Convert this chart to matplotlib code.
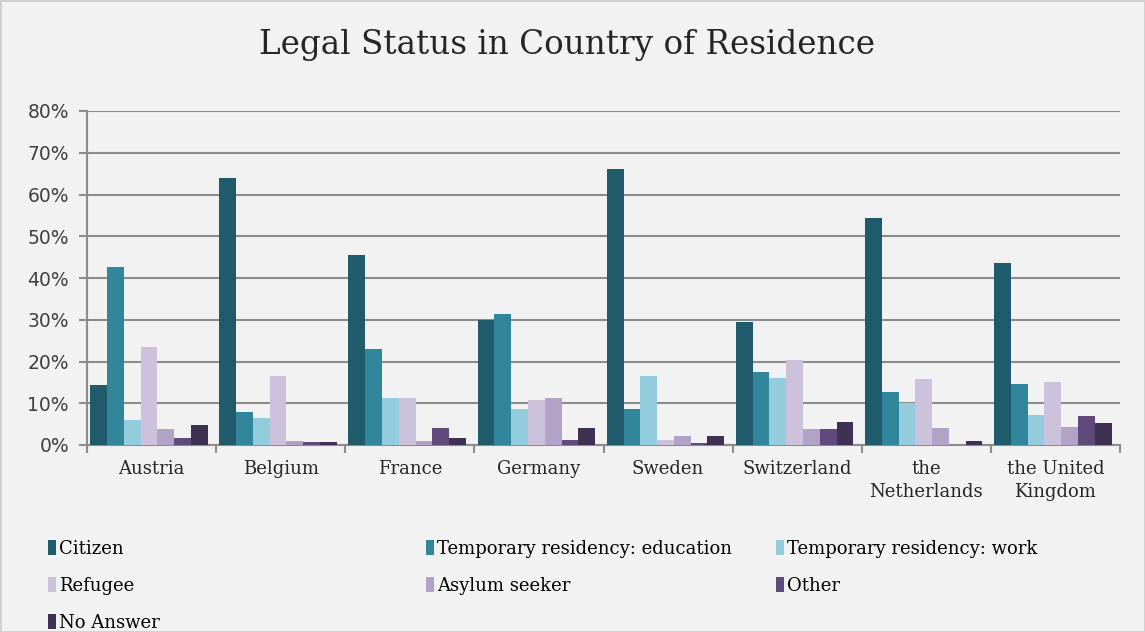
import numpy as np
import matplotlib.pyplot as plt
from matplotlib.patches import Rectangle, Patch
from matplotlib.ticker import FuncFormatter, MultipleLocator

# values, in percent
countries = ['Austria', 'Belgium', 'France', 'Germany', 'Sweden',
             'Switzerland', 'the\nNetherlands', 'the United\nKingdom']
series = ['Citizen', 'Temporary residency: education', 'Temporary residency: work',
          'Refugee', 'Asylum seeker', 'Other', 'No Answer']
citizen = [14.3, 64.0, 45.6, 30.0, 66.2, 29.5, 54.3, 43.5]
temp_edu = [42.6, 7.8, 23.0, 31.3, 8.7, 17.4, 12.7, 14.7]
temp_work = [6.0, 6.5, 11.3, 8.7, 16.5, 16.1, 10.0, 7.3]
refugee = [23.4, 16.5, 11.3, 10.8, 1.3, 20.4, 15.7, 15.2]
asylum = [3.9, 0.9, 0.9, 11.3, 2.1, 3.9, 4.0, 4.4]
other = [1.7, 0.8, 4.0, 1.3, 0.4, 3.9, 0.0, 7.0]
no_answer = [4.8, 0.8, 1.7, 4.0, 2.1, 5.6, 0.9, 5.2]
colors = ['#1f5b6b', '#31869c', '#93cddd', '#cdc2db', '#b3a2c8', '#604a7b', '#3f3152']

values = [citizen, temp_edu, temp_work, refugee, asylum, other, no_answer]

bg = '#f2f2f2'
fig = plt.figure(figsize=(11.45, 6.32), dpi=100, facecolor=bg)
ax = fig.add_axes([87 / 1145, 1 - 445 / 632, 1033 / 1145, 334 / 632])
ax.set_facecolor(bg)

x = np.arange(len(countries))
bw = 0.13
handles = []
for i, (name, vals, c) in enumerate(zip(series, values, colors)):
    off = (i - 3) * bw - 0.02
    ax.bar(x + off, vals, width=bw, color=c, zorder=3)
    handles.append(Patch(facecolor=c, label=name))

ax.set_xlim(-0.5, len(countries) - 0.5)
ax.set_ylim(0, 80)
ax.yaxis.set_major_locator(MultipleLocator(10))
ax.yaxis.set_major_formatter(FuncFormatter(lambda v, p: '%d%%' % v))
ax.grid(axis='y', color='#8c8c8c', linewidth=1.5, zorder=0)

for s in ['top', 'right']:
    ax.spines[s].set_visible(False)
for s in ['left', 'bottom']:
    ax.spines[s].set_color('#8c8c8c')
    ax.spines[s].set_linewidth(1.5)

ax.set_xticks(x)
ax.set_xticklabels(countries, fontfamily='DejaVu Serif', fontsize=13, color='#262626',
                   linespacing=1.35)
ax.set_xticks(np.arange(len(countries) + 1) - 0.5, minor=True)
ax.tick_params(axis='x', which='major', length=0, pad=11)
ax.tick_params(axis='x', which='minor', length=6, color='#8c8c8c', width=1.5)
ax.tick_params(axis='y', length=6, color='#8c8c8c', width=1.5, labelsize=13.5,
               labelcolor='#404040', pad=7)

fig.text(0.495, 1 - 45 / 632, 'Legal Status in Country of Residence', ha='center', va='center',
         fontfamily='DejaVu Serif', fontsize=23.5, color='#262626')

# legend, three columns placed as in the reference
cols = [(48, [0, 3, 6]), (426, [1, 4]), (776, [2, 5])]
for xpix, idx in cols:
    fig.legend([handles[k] for k in idx], [series[k] for k in idx],
               loc='upper left', bbox_to_anchor=(xpix / 1145, 1 - 540 / 632),
               frameon=False, handlelength=0.45, handleheight=0.9, handletextpad=0.15,
               labelspacing=1.05, borderpad=0, borderaxespad=0,
               prop={'family': 'DejaVu Serif', 'size': 13})

fig.patches.append(Rectangle((0, 0), 1, 1, transform=fig.transFigure, fill=False,
                             edgecolor='#d0d0d0', linewidth=2))

fig.savefig('out.png', dpi=100, facecolor=bg)
